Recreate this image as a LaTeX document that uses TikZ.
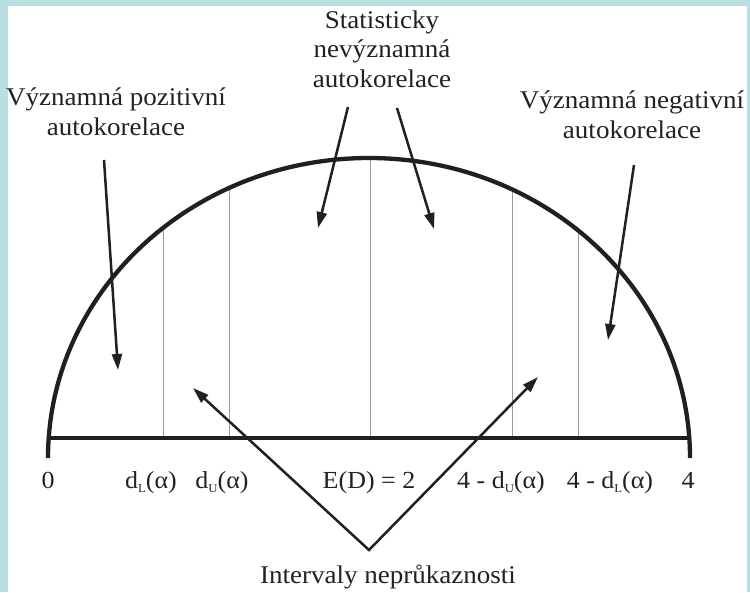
\documentclass[tikz,border=0pt]{standalone}
\usepackage{fontspec}
\setmainfont[FakeStretch=1.06]{Liberation Serif}
\usetikzlibrary{arrows.meta}
\definecolor{bord}{HTML}{B8DFE3}
\definecolor{ink}{HTML}{231F20}
\definecolor{txt}{HTML}{222222}
\definecolor{thin}{HTML}{9A9A9A}
\newcommand{\sbs}[1]{\raisebox{-0.18em}{\fontsize{12}{12}\selectfont #1}}
\begin{document}
\begin{tikzpicture}[x=1pt,y=-1pt,
  lbl/.style={text=txt, font=\fontsize{25.5}{29.5}\selectfont, inner sep=0pt, align=center, anchor=base},
  axl/.style={text=txt, font=\fontsize{24.5}{29}\selectfont, inner sep=0pt, anchor=base},
  ptr/.style={draw=ink, line width=2.5pt, line join=miter, -{Triangle[length=16pt,width=10pt]}},
  heavy/.style={draw=ink, line width=4.3pt},
  divider/.style={draw=thin, line width=1pt}]
\useasboundingbox (0,0) rectangle (750,592);
\fill[bord] (0,0) rectangle (750,592);
\fill[white] (8,5.5) rectangle (747,592);

% dividers inside the arc
\begin{scope}
  \clip (48,458) arc[start angle=180, end angle=360, x radius=321, y radius=300] -- cycle;
  \foreach \xx in {163,229,370,512,578} {\draw[divider] (\xx,440) -- (\xx,140);}
\end{scope}

% arc and baseline
\draw[heavy] (48,458) arc[start angle=180, end angle=360, x radius=321, y radius=300];
\draw[heavy] (48,438) -- (690,438);

% labels (base = baseline of the last line)
\node[lbl] (pos) at (116,135) {Významná pozitivní\\autokorelace};
\node[lbl] (nev) at (382,87) {Statisticky\\nevýznamná\\autokorelace};
\node[lbl] (neg) at (632,138) {Významná negativní\\autokorelace};
\node[lbl] (int) at (388,583) {Intervaly neprůkaznosti};

% axis labels
\node[axl] (t0) at (48,488) {0};
\node[axl] (t1) at (151,488) {d\sbs{L}(α)};
\node[axl] (t2) at (222,488) {d\sbs{U}(α)};
\node[axl] (t3) at (369,488) {E(D) = 2};
\node[axl] (t4) at (501,488) {4 - d\sbs{U}(α)};
\node[axl] (t5) at (610,488) {4 - d\sbs{L}(α)};
\node[axl] (t6) at (688,488) {4};

% arrow coordinates
\coordinate (pa) at (104,160); \coordinate (pb) at (118,370);
\coordinate (ca) at (348,107); \coordinate (cb) at (318,228);
\coordinate (da) at (397,108); \coordinate (db) at (434,229);
\coordinate (na) at (634,165); \coordinate (nb) at (608,340);
\coordinate (v) at (369,550); \coordinate (il) at (193,388); \coordinate (ir) at (538,377);

\draw[ptr] (pa) -- (pb);
\draw[ptr] (ca) -- (cb);
\draw[ptr] (da) -- (db);
\draw[ptr] (na) -- (nb);
\draw[ptr, {Triangle[length=16pt,width=10pt]}-{Triangle[length=16pt,width=10pt]}] (il) -- (v) -- (ir);
\end{tikzpicture}
\end{document}
